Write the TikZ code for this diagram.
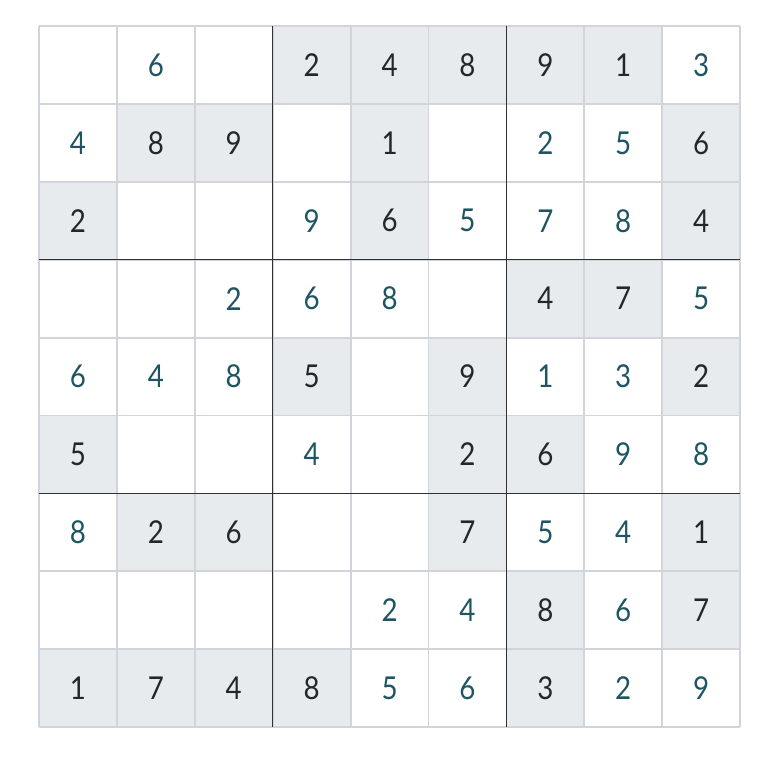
\documentclass[tikz,border=0pt]{standalone}
\usepackage{fontspec}
\setmainfont{Lato}
\newfontfamily\digitfont[FakeStretch=0.88]{Lato}
\definecolor{givenbg}{HTML}{E8EBEE}
\definecolor{gridlight}{HTML}{D1D5DB}
\definecolor{griddark}{HTML}{2E3236}
\definecolor{teal}{HTML}{1F5562}
\definecolor{giventxt}{HTML}{24272A}
\tikzset{
  givencell/.style={fill=givenbg, draw=none},
  givennum/.style={text=giventxt, font=\digitfont\fontsize{31.5}{31.5}\selectfont, inner sep=0pt},
  usernum/.style={text=teal, font=\digitfont\fontsize{31.5}{31.5}\selectfont, inner sep=0pt},
  thinline/.style={draw=gridlight, line width=1.8pt},
  boxline/.style={draw=griddark, line width=0.9pt},
}
\begin{document}
\begin{tikzpicture}[x=1pt,y=-1pt]
\useasboundingbox (0,0) rectangle (780,756);
\fill[white] (0,0) rectangle (780,756);
\def\xo{39}\def\yo{26}\def\cs{77.9}
% cells: row/col/value/type (g=given, t=user)
\foreach \r/\c/\v/\t in {
 1/2/6/t,1/4/2/g,1/5/4/g,1/6/8/g,1/7/9/g,1/8/1/g,1/9/3/t,
 2/1/4/t,2/2/8/g,2/3/9/g,2/5/1/g,2/7/2/t,2/8/5/t,2/9/6/g,
 3/1/2/g,3/4/9/t,3/5/6/g,3/6/5/t,3/7/7/t,3/8/8/t,3/9/4/g,
 4/3/2/t,4/4/6/t,4/5/8/t,4/7/4/g,4/8/7/g,4/9/5/t,
 5/1/6/t,5/2/4/t,5/3/8/t,5/4/5/g,5/6/9/g,5/7/1/t,5/8/3/t,5/9/2/g,
 6/1/5/g,6/4/4/t,6/6/2/g,6/7/6/g,6/8/9/t,6/9/8/t,
 7/1/8/t,7/2/2/g,7/3/6/g,7/6/7/g,7/7/5/t,7/8/4/t,7/9/1/g,
 8/5/2/t,8/6/4/t,8/7/8/g,8/8/6/t,8/9/7/g,
 9/1/1/g,9/2/7/g,9/3/4/g,9/4/8/g,9/5/5/t,9/6/6/t,9/7/3/g,9/8/2/t,9/9/9/t}{
  \pgfmathsetmacro\xa{\xo+(\c-1)*\cs}
  \pgfmathsetmacro\ya{\yo+(\r-1)*\cs}
  \if g\t
    \path[givencell] (\xa,\ya) rectangle ++(\cs,\cs);
    \node[givennum] (n\r\c) at (\xa+\cs/2,\ya+\cs/2) {\v};
  \else
    \node[usernum] (n\r\c) at (\xa+\cs/2,\ya+\cs/2) {\v};
  \fi
}
% light grid
\foreach \i in {0,...,9}{
  \pgfmathsetmacro\p{\xo+\i*\cs}
  \pgfmathsetmacro\q{\yo+\i*\cs}
  \path[thinline] (\p,\yo) -- (\p,\yo+9*\cs);
  \path[thinline] (\xo,\q) -- (\xo+9*\cs,\q);
}
% box lines
\foreach \i in {3,6}{
  \pgfmathsetmacro\p{\xo+\i*\cs}
  \pgfmathsetmacro\q{\yo+\i*\cs}
  \path[boxline] (\p,\yo) -- (\p,\yo+9*\cs);
  \path[boxline] (\xo,\q) -- (\xo+9*\cs,\q);
}
\end{tikzpicture}
\end{document}
